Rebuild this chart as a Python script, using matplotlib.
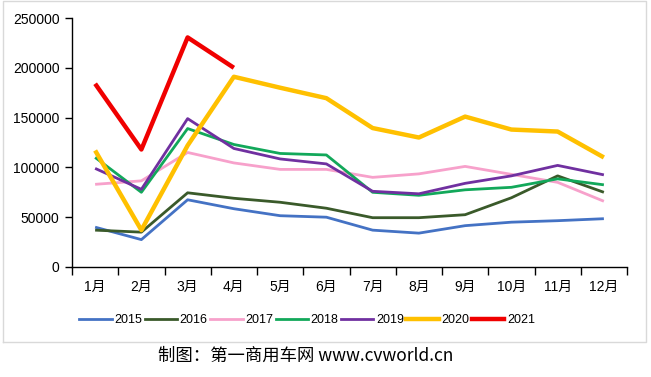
import matplotlib
matplotlib.use('Agg')
import matplotlib.pyplot as plt
from matplotlib.lines import Line2D

plt.rcParams['font.family'] = ['Liberation Sans', 'Noto Sans CJK SC', 'DejaVu Sans']

months = ['1月', '2月', '3月', '4月', '5月', '6月', '7月', '8月', '9月', '10月', '11月', '12月']
years = ['2015', '2016', '2017', '2018', '2019', '2020', '2021']

sales_2015 = [40000, 27500, 67500, 58500, 51500, 50000, 37000, 34000, 41500, 45000, 46500, 48500]
sales_2016 = [37000, 35000, 74500, 69000, 65000, 59000, 49500, 49500, 52500, 69500, 91500, 75000]
sales_2017 = [83000, 86500, 115000, 104500, 98000, 98000, 90000, 93500, 101000, 93000, 85000, 66000]
sales_2018 = [110000, 75000, 139000, 123000, 114000, 112500, 75000, 72000, 77500, 80000, 88500, 82500]
sales_2019 = [99000, 78000, 149000, 119000, 108500, 103500, 76000, 73500, 84000, 91500, 102000, 92500]
sales_2020 = [117000, 37000, 122000, 191000, 180000, 169500, 139500, 130000, 151000, 138000, 136000, 110000]
sales_2021 = [184000, 118000, 230500, 200000]

series = [sales_2015, sales_2016, sales_2017, sales_2018, sales_2019, sales_2020, sales_2021]
colors = ['#4472C4', '#3A5A2A', '#F7A1CB', '#12A85A', '#7030A0', '#FFC000', '#F00000']
widths = [2.0, 2.0, 2.0, 2.0, 2.0, 3.2, 3.2]

fig = plt.figure(figsize=(6.51, 3.77), dpi=100)
ax = fig.add_axes([72 / 651, 1 - 267 / 377, 555 / 651, 249 / 377])

for vals, c, w, lab in zip(series, colors, widths, years):
    ax.plot(range(len(vals)), vals, color=c, lw=w, label=lab, solid_capstyle='butt')

ax.set_xlim(-0.5, 11.5)
ax.set_ylim(0, 250000)
ax.set_yticks(range(0, 250001, 50000))
ax.set_xticks([i - 0.5 for i in range(13)])
ax.set_xticklabels([])
ax.set_xticks(range(12), minor=True)
ax.set_xticklabels(months, minor=True)
ax.tick_params(axis='x', which='major', length=6, width=1, direction='out')
ax.tick_params(axis='x', which='minor', length=0, pad=9, labelsize=10)
ax.tick_params(axis='y', length=5, width=1, labelsize=10, pad=4)
for s in ['top', 'right']:
    ax.spines[s].set_visible(False)
for s in ['left', 'bottom']:
    ax.spines[s].set_color('black')
    ax.spines[s].set_linewidth(1)

handles = [Line2D([], [], color=c, lw=w) for c, w in zip(colors, widths)]
fig.legend(handles, years, loc='center', bbox_to_anchor=(307 / 651, 1 - 320 / 377),
           ncol=7, frameon=False, fontsize=9, handlelength=2.6, handletextpad=0.2,
           columnspacing=0.2)

# outer frame and separator
fig.add_artist(Line2D([3 / 651, 646 / 651, 646 / 651, 3 / 651, 3 / 651],
                      [1 - 342 / 377, 1 - 342 / 377, 1 - 1 / 377, 1 - 1 / 377, 1 - 342 / 377],
                      color='#D9D9D9', lw=1))
fig.text(306 / 651, 1 - 356 / 377, '制图：第一商用车网 www.cvworld.cn', ha='center', va='center',
         fontsize=12.5, family=['Noto Sans CJK SC'])

plt.savefig('out.png', dpi=100)
